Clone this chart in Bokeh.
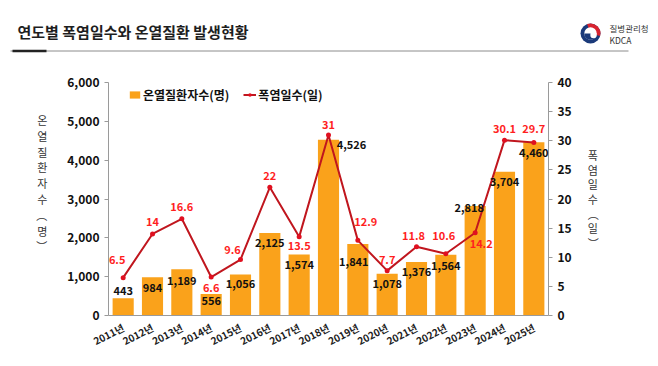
import math
from bokeh.plotting import figure
from bokeh.models import (ColumnDataSource, Range1d, LinearAxis, Legend, LegendItem,
                          LabelSet, NumeralTickFormatter, FactorRange, FixedTicker)
from bokeh.layouts import column, row
from bokeh.embed import file_html
from bokeh.resources import INLINE
from bokeh.core.properties import value

# ---------------- data ----------------
years = ["2011년", "2012년", "2013년", "2014년", "2015년", "2016년", "2017년", "2018년",
         "2019년", "2020년", "2021년", "2022년", "2023년", "2024년", "2025년"]
patients = [443, 984, 1189, 556, 1056, 2125, 1574, 4526, 1841, 1078, 1376, 1564, 2818, 3704, 4460]
heat_days = [6.5, 14, 16.6, 6.6, 9.6, 22, 13.5, 31, 12.9, 7.7, 11.8, 10.6, 14.2, 30.1, 29.7]
left_ticks = [0, 1000, 2000, 3000, 4000, 5000, 6000]
right_ticks = [0, 5, 10, 15, 20, 25, 30, 35, 40]
bar_name = "온열질환자수(명)"
line_name = "폭염일수(일)"
left_title = "온열질환자수(명)"
right_title = "폭염일수(일)"
title_text = "연도별 폭염일수와 온열질환 발생현황"

# label nudges (screen px, up positive)
bar_dx = [0, 0, 0, 0, 0, 0, 0, 23, -4, 0, 0, 0, -6, 0, 0]
bar_dy = [8, -10, -11, -7, -9, -10, -10, -5, -17, -10, -9, -11, -1, -10, -10]
line_dx = [-6, 0, 0, 0, -8, 0, 0, 0, 8, 0, -3, -2, 6, 0, 0]
line_dy = [18, 12, 12, -10, 10, 12, -9, 10, 19, 11, 11, 18, -11, 12, 14]

FONT = "Noto Sans CJK KR"
BAR_COLOR = "#FAA21B"
LINE_COLOR = "#C0161E"
LABEL_RED = "#FF1F1F"

W = 658

# ---------------- header ----------------
h = figure(width=W, height=58, x_range=Range1d(0, W), y_range=Range1d(-58, 0),
           toolbar_location=None, output_backend="svg", min_border=0,
           min_border_left=0, min_border_right=0, min_border_top=0, min_border_bottom=0,
           x_axis_location=None, y_axis_location=None)
h.grid.visible = False
h.outline_line_color = None
h.text(x=[17], y=[-31], text=[title_text], text_font=value(FONT), text_font_style="bold",
       text_font_size="15px", text_baseline="middle", text_color="#1e1e1e")
h.segment(x0=[10], y0=[-50.5], x1=[628], y1=[-50.5], line_color="#8c8c8c", line_width=1)
h.segment(x0=[12], y0=[-50.5], x1=[46], y1=[-50.5], line_color="#222222", line_width=2.5)
# logo (stylised taegeuk)
cx, cy, r = 590, -33, 10
h.circle(x=[cx], y=[cy], radius=r, fill_color="#1B3A7A", line_color=None)
h.wedge(x=[cx], y=[cy], radius=r, start_angle=math.radians(-15), end_angle=math.radians(110),
        fill_color="#D8232F", line_color=None)
h.circle(x=[cx], y=[cy], radius=6.2, fill_color="white", line_color=None)
h.wedge(x=[cx], y=[cy], radius=6.2, start_angle=math.radians(180), end_angle=math.radians(330),
        fill_color="#1B3A7A", line_color=None)
h.circle(x=[cx + 3], y=[cy - 1.5], radius=3.2, fill_color="white", line_color=None)
h.text(x=[609], y=[-27], text=["질병관리청"], text_font=value(FONT), text_font_size="8.5px",
       text_baseline="middle", text_color="#333333")
h.text(x=[609], y=[-39], text=["KDCA"], text_font=value(FONT), text_font_size="8.5px",
       text_baseline="middle", text_color="#333333")

# ---------------- main chart ----------------
src = ColumnDataSource(dict(
    year=years, patients=patients, days=heat_days,
    ptxt=[f"{v:,}" for v in patients], dtxt=[f"{v:g}" for v in heat_days],
    bdx=bar_dx, bdy=bar_dy, ldx=line_dx, ldy=line_dy,
))

p = figure(width=W, height=308, x_range=FactorRange(factors=years), y_range=Range1d(0, 6000),
           toolbar_location=None, output_backend="svg",
           min_border_left=108, min_border_right=110, min_border_top=24, min_border_bottom=51)
p.extra_y_ranges = {"days": Range1d(0, 40)}
p.grid.visible = False
p.outline_line_color = None

bars = p.vbar(x="year", top="patients", width=0.72, source=src, fill_color=BAR_COLOR, line_color=None)
ln = p.line(x="year", y="days", y_range_name="days", source=src, line_color=LINE_COLOR, line_width=2)
pts = p.scatter(x="year", y="days", y_range_name="days", source=src, size=5,
                fill_color="#E01020", line_color=None)

p.add_layout(LabelSet(x="year", y="patients", text="ptxt", source=src, x_offset="bdx", y_offset="bdy",
                      text_align="center", text_baseline="middle", text_font=value(FONT),
                      text_font_style="bold", text_font_size="11px", text_color="#111111"))
p.add_layout(LabelSet(x="year", y="days", y_range_name="days", text="dtxt", source=src,
                      x_offset="ldx", y_offset="ldy",
                      text_align="center", text_baseline="middle", text_font=value(FONT),
                      text_font_style="bold", text_font_size="11px", text_color=LABEL_RED))

# axes
yl = p.yaxis[0]
yl.ticker = FixedTicker(ticks=left_ticks)
yl.formatter = NumeralTickFormatter(format="0,0")
yr = LinearAxis(y_range_name="days", ticker=FixedTicker(ticks=right_ticks))
p.add_layout(yr, "right")

def vert(s):
    return "\n".join(s.replace("(", "︵").replace(")", "︶"))

yl.axis_label = vert(left_title) + "\n\u00a0\n\u00a0"
yr.axis_label = vert(right_title)
yl.axis_label_standoff = 17
yr.axis_label_standoff = 13
for ax in (yl, yr):
    ax.axis_line_color = "#9a9a9a"
    ax.major_tick_line_color = "#9a9a9a"
    ax.major_tick_out = 4
    ax.major_tick_in = 0
    ax.minor_tick_line_color = None
    ax.major_label_text_font = FONT
    ax.major_label_text_font_style = "bold"
    ax.major_label_text_font_size = "12px"
    ax.major_label_text_color = "#111111"
    ax.axis_label_orientation = "horizontal"
    ax.axis_label_text_font = FONT
    ax.axis_label_text_font_style = "normal"
    ax.axis_label_text_font_size = "11px"
    ax.axis_label_text_color = "#333333"
yl.axis_label_text_line_height = 0.985
yr.axis_label_text_line_height = 0.92
xa = p.xaxis[0]
xa.axis_line_color = "#9a9a9a"
xa.major_tick_line_color = None
xa.major_label_orientation = 0.47
xa.major_label_text_font = FONT
xa.major_label_text_font_style = "bold"
xa.major_label_text_font_size = "10px"
xa.major_label_text_color = "#222222"

legend = Legend(items=[LegendItem(label=bar_name, renderers=[bars]),
                       LegendItem(label=line_name, renderers=[ln, pts])],
                location=(20, 212), orientation="horizontal",
                label_text_font=FONT, label_text_font_style="bold", label_text_font_size="12px",
                label_text_color="#111111", glyph_width=13, glyph_height=9, label_height=12,
                label_standoff=2, spacing=14, padding=0, margin=0,
                background_fill_alpha=0, border_line_color=None)
p.add_layout(legend)

layout = column(row(h), p, spacing=0)
open("out.html", "w").write(file_html(layout, INLINE))
